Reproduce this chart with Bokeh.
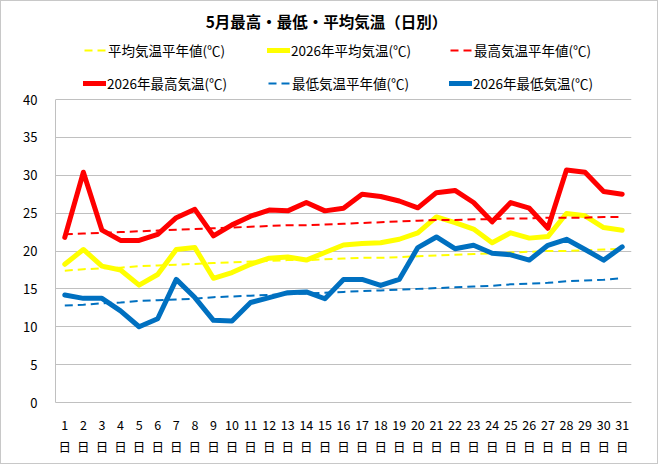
from bokeh.plotting import figure
from bokeh.models import Range1d, FixedTicker, Legend, LegendItem, Label
from bokeh.embed import file_html
from bokeh.resources import INLINE

days = list(range(1, 32))
day_labels = {d: f"{d}\n日" for d in days}
y_ticks = [0, 5, 10, 15, 20, 25, 30, 35, 40]

avg_normal = [17.4, 17.6, 17.7, 17.8, 18.0, 18.1, 18.2, 18.3, 18.4, 18.5, 18.6, 18.7, 18.8, 18.8, 18.9, 19.0,
              19.1, 19.1, 19.2, 19.3, 19.4, 19.5, 19.6, 19.7, 19.8, 19.9, 20.0, 20.0, 20.1, 20.2, 20.3]
avg_2026 = [18.25, 20.2, 18.0, 17.5, 15.5, 16.9, 20.2, 20.45, 16.4, 17.15, 18.25, 19.05, 19.2, 18.8, 19.8, 20.8,
            21.0, 21.1, 21.55, 22.4, 24.5, 23.75, 22.9, 21.1, 22.4, 21.7, 21.9, 24.95, 24.65, 23.1, 22.75]
max_normal = [22.2, 22.3, 22.4, 22.5, 22.6, 22.7, 22.8, 22.9, 23.0, 23.1, 23.2, 23.3, 23.4, 23.4, 23.5, 23.6,
              23.7, 23.8, 23.9, 24.0, 24.1, 24.1, 24.2, 24.2, 24.3, 24.3, 24.4, 24.4, 24.4, 24.5, 24.5]
max_2026 = [21.8, 30.4, 22.75, 21.4, 21.4, 22.2, 24.4, 25.5, 22.0, 23.45, 24.6, 25.4, 25.3, 26.4, 25.3, 25.65,
            27.5, 27.2, 26.6, 25.7, 27.7, 28.0, 26.4, 23.85, 26.4, 25.65, 23.0, 30.7, 30.4, 27.85, 27.5]
min_normal = [12.8, 12.9, 13.1, 13.2, 13.4, 13.5, 13.6, 13.7, 13.9, 14.0, 14.1, 14.2, 14.3, 14.4, 14.5, 14.6,
              14.7, 14.8, 14.9, 15.0, 15.1, 15.2, 15.3, 15.4, 15.6, 15.7, 15.8, 16.0, 16.1, 16.2, 16.4]
min_2026 = [14.2, 13.75, 13.75, 12.1, 10.0, 11.05, 16.25, 13.85, 10.85, 10.75, 13.2, 13.85, 14.5, 14.6, 13.7, 16.25,
            16.25, 15.45, 16.25, 20.45, 21.85, 20.3, 20.75, 19.7, 19.5, 18.8, 20.75, 21.55, 20.2, 18.8, 20.55]

names = ["平均気温平年値(℃)", "2026年平均気温(℃)", "最高気温平年値(℃)",
         "2026年最高気温(℃)", "最低気温平年値(℃)", "2026年最低気温(℃)"]
title_text = "5月最高・最低・平均気温（日別）"

FONT = "Noto Sans CJK JP"

# frame spans the whole height above the x axis; the value axis is bounded to 0..40
FRAME_H = 401
Y_TOP = 40 * FRAME_H / 303

p = figure(width=658, height=464, output_backend="svg", toolbar_location=None,
           x_range=Range1d(0.5, 31.5), y_range=Range1d(0, Y_TOP),
           min_border_left=54, min_border_right=28, min_border_bottom=464 - FRAME_H, min_border_top=0)
p.styles = {"border": "1px solid #c8c8c8"}
p.outline_line_color = None

p.xgrid.grid_line_color = None
p.ygrid.grid_line_color = "#c0c0c0"
p.ygrid.ticker = FixedTicker(ticks=y_ticks)

p.yaxis.ticker = FixedTicker(ticks=y_ticks)
p.yaxis.bounds = (0, 40)
p.xaxis.ticker = FixedTicker(ticks=days)
p.xaxis.major_label_overrides = day_labels
for ax in (p.xaxis[0], p.yaxis[0]):
    ax.axis_line_color = "#c0c0c0"
    ax.major_tick_line_color = None
    ax.minor_tick_line_color = None
    ax.major_label_text_font = FONT
    ax.major_label_text_color = "#000000"
p.yaxis.major_label_text_font_size = "13px"
p.yaxis.major_label_standoff = 12
p.xaxis.major_label_text_font_size = "12.5px"
p.xaxis.major_label_text_line_height = 1.2
p.xaxis.major_label_standoff = 6

styles = [
    (avg_normal, "#FFFF00", 2, "8 5"),
    (avg_2026, "#FFFF00", 5, "solid"),
    (max_normal, "#FF0000", 2, "8 5"),
    (max_2026, "#FF0000", 5, "solid"),
    (min_normal, "#0070C0", 2, "8 5"),
    (min_2026, "#0070C0", 5, "solid"),
]
legend_spots = [(29, 342), (212, 342), (395, 342), (28, 309), (213, 309), (394, 309)]
for (vals, col, w, dash), name, spot in zip(styles, names, legend_spots):
    r = p.line(days, vals, line_color=col, line_width=w, line_dash=dash, line_join="round",
               line_cap="round" if dash == "solid" else "butt")
    lg = Legend(items=[LegendItem(label=name, renderers=[r])], location=spot, orientation="horizontal",
                label_text_font=FONT, label_text_font_size="13.5px", label_text_color="#000000",
                glyph_width=23, glyph_height=18, label_height=18, label_standoff=1,
                padding=0, margin=0, border_line_color=None, background_fill_alpha=0)
    p.add_layout(lg, "center")

title = Label(x=271, y=382, x_units="screen", y_units="screen", text=title_text,
              text_align="center", text_baseline="middle", text_font=FONT,
              text_font_size="15.5px", text_font_style="bold", text_color="#000000")
p.add_layout(title)

open("out.html", "w").write(file_html(p, INLINE))
